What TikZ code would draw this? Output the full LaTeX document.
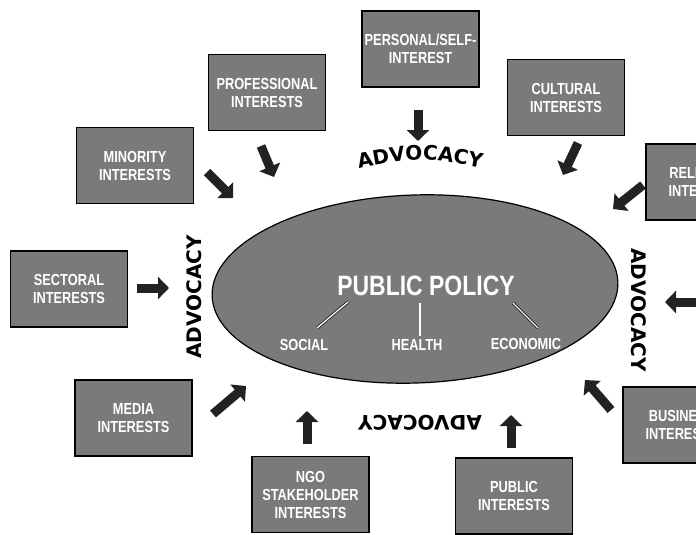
\documentclass[tikz,border=0pt]{standalone}
\usepackage{fontspec}
\setmainfont{Liberation Sans}
\newfontfamily\boxfont{Liberation Sans}[FakeStretch=0.8]
\newfontfamily\ppfont{Liberation Sans}[FakeStretch=0.82]
\newfontfamily\advfont{DejaVu Sans}
\usetikzlibrary{shapes.geometric,arrows.meta,decorations.text}
\definecolor{boxgray}{HTML}{7A7A7A}
\definecolor{arrowgray}{HTML}{222222}
\begin{document}
\begin{tikzpicture}[x=1pt,y=-1pt,
  ibox/.style={draw=black, line width=1.8pt, fill=boxgray, minimum width=117pt,
    minimum height=76pt, inner sep=0pt, align=center, text=white,
    font=\boxfont\bfseries\fontsize{16}{18}\selectfont},
  subtext/.style={inner sep=0pt, text=white, font=\boxfont\bfseries\fontsize{16}{18}\selectfont},
  adv/.style={inner sep=0pt, font=\advfont\bfseries\fontsize{20}{22}\selectfont},
  push/.style={line width=9pt, draw=arrowgray, -{Triangle[width=22pt,length=11pt]}},
  subline/.style={draw=black, line width=0.7pt, double=white, double distance=1.4pt}
]
\useasboundingbox (0,0) rectangle (696,535);
\clip (0,0) rectangle (696,535);

% central ellipse
\node[ellipse, draw=black, line width=1.2pt, fill=boxgray, minimum width=406pt,
  minimum height=188pt, inner sep=0pt, rotate=2] (pp) at (415,289) {};
\node[inner sep=0pt, text=white, font=\ppfont\bfseries\fontsize{28}{30}\selectfont]
  (ptitle) at (426,286) {PUBLIC POLICY};
\node[subtext] (social) at (304,345) {SOCIAL};
\node[subtext] (health) at (417,345) {HEALTH};
\node[subtext] (economic) at (526,344) {ECONOMIC};
\coordinate (s1) at (348,302); \coordinate (s2) at (317,328);
\coordinate (h1) at (420,303); \coordinate (h2) at (420,336);
\coordinate (e1) at (513,303); \coordinate (e2) at (538,328);
\draw[subline] (s1) -- (s2);
\draw[subline] (h1) -- (h2);
\draw[subline] (e1) -- (e2);

% interest boxes
\node[ibox] (personal) at (420.5,49) {PERSONAL/SELF-\\INTEREST};
\node[ibox] (professional) at (267,92.5) {PROFESSIONAL\\INTERESTS};
\node[ibox] (cultural) at (566,97.5) {CULTURAL\\INTERESTS};
\node[ibox] (minority) at (135,165.5) {MINORITY\\INTERESTS};
\node[ibox] (religious) at (704.5,182) {RELIGIOUS\\INTERESTS};
\node[ibox] (sectoral) at (69,289) {SECTORAL\\INTERESTS};
\node[ibox] (media) at (133.5,418) {MEDIA\\INTERESTS};
\node[ibox] (ngo) at (310.5,494.5) {NGO\\STAKEHOLDER\\INTERESTS};
\node[ibox] (public) at (514,496) {PUBLIC\\INTERESTS};
\node[ibox] (business) at (681.5,425) {BUSINESS\\INTERESTS};

% advocacy labels
\coordinate (advA) at (350,170);
\coordinate (advB) at (420,156);
\coordinate (advC) at (490,170);
\path[decorate, decoration={text along path, text align=center,
  text={|\advfont\bfseries\fontsize{20}{22}\selectfont|ADVOCACY}}]
  (advA) .. controls (advB) .. (advC);
\node[adv, rotate=90] (advleft) at (194,297) {ADVOCACY};
\node[adv, rotate=-90] (advright) at (639,310) {ADVOCACY};
\node[adv, rotate=180] (advbottom) at (420,423) {ADVOCACY};

% arrows
\coordinate (personalT) at (418,110); \coordinate (personalH) at (418,141);
\coordinate (professionalT) at (261,146); \coordinate (professionalH) at (274,177);
\coordinate (minorityT) at (207,172); \coordinate (minorityH) at (233,198);
\coordinate (culturalT) at (578,143); \coordinate (culturalH) at (563,175);
\coordinate (religiousT) at (643,185); \coordinate (religiousH) at (613,209);
\coordinate (rightT) at (702,302); \coordinate (rightH) at (665,302);
\coordinate (businessT) at (611,410); \coordinate (businessH) at (585,380);
\coordinate (publicT) at (511,448); \coordinate (publicH) at (511,415);
\coordinate (ngoT) at (307,444); \coordinate (ngoH) at (307,411);
\coordinate (mediaT) at (213,414); \coordinate (mediaH) at (246,386);
\coordinate (sectoralT) at (137,288); \coordinate (sectoralH) at (169,288);
\foreach \a in {personal,professional,minority,cultural,religious,right,business,public,ngo,media,sectoral}
  \draw[push] (\a T) -- (\a H);
\end{tikzpicture}
\end{document}
